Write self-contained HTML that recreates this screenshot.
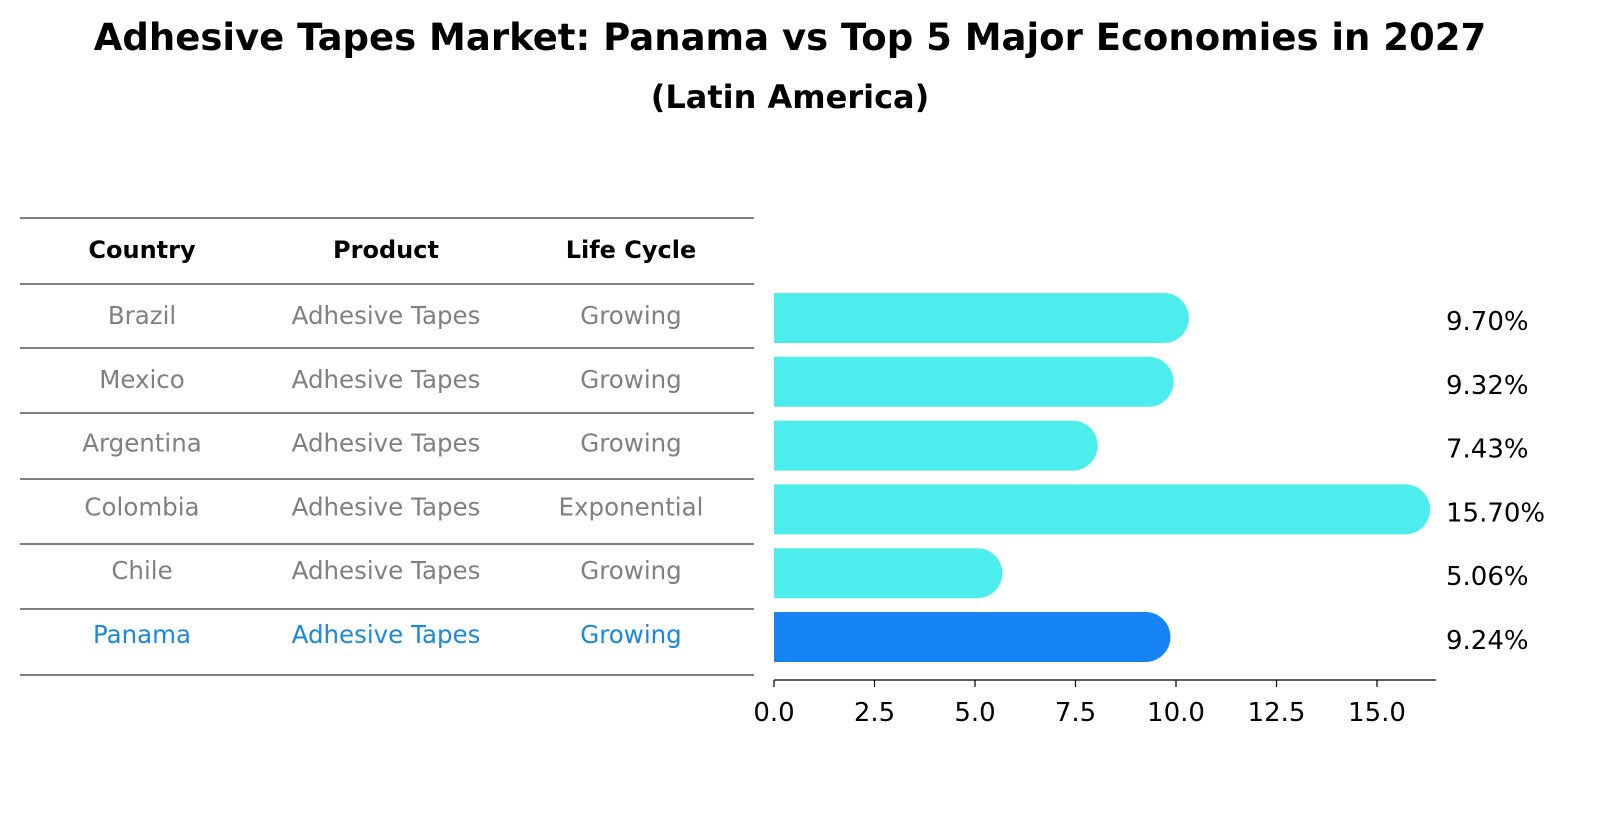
<!DOCTYPE html>
<html><head><meta charset="utf-8"><style>
body{margin:0;background:#fff;font-family:"Liberation Sans","DejaVu Sans",sans-serif;}
svg text{font-family:"DejaVu Sans","Liberation Sans",sans-serif;}
</style></head><body>
<svg id="c" width="1604" height="823" xmlns="http://www.w3.org/2000/svg">
<text x="790" y="50" text-anchor="middle" font-size="37" font-weight="bold">Adhesive Tapes Market: Panama vs Top 5 Major Economies in 2027</text>
<text x="790" y="108" text-anchor="middle" font-size="32" font-weight="bold">(Latin America)</text>
<g id="tbl"></g>
<g id="bars"></g>
<g id="axis"></g>
</svg>
<script>
const countries=["Brazil","Mexico","Argentina","Colombia","Chile","Panama"];
const products=["Adhesive Tapes","Adhesive Tapes","Adhesive Tapes","Adhesive Tapes","Adhesive Tapes","Adhesive Tapes"];
const lifecycles=["Growing","Growing","Growing","Exponential","Growing","Growing"];
const values=[9.70,9.32,7.43,15.70,5.06,9.24];
const ticks=[0,2.5,5,7.5,10,12.5,15];
const NS="http://www.w3.org/2000/svg";
function mk(t,a,p){const e=document.createElementNS(NS,t);for(const k in a)e.setAttribute(k,a[k]);p.appendChild(e);return e;}
const x0=774,ppu=40.2;
function xs(v){return x0+v*ppu;}
function ys(i){return 318+i*63.8;}
const tbl=document.getElementById('tbl');
const lineYs=[218,284,348,413,479,544,609,675];
lineYs.forEach(y=>{const l=mk('line',{x1:20,x2:754,y1:y,y2:y,stroke:'#000','stroke-width':1},tbl);

});
const cx=[142,386,631];
["Country","Product","Life Cycle"].forEach((h,j)=>{const t=mk('text',{x:cx[j],y:258,'text-anchor':'middle','font-size':24,'font-weight':'bold'},tbl);t.textContent=h;

});
countries.forEach((c,i)=>{const col=c==="Panama"?"#1a87e0":"#808080";
[c,products[i],lifecycles[i]].forEach((s,j)=>{const t=mk('text',{x:cx[j],y:ys(i)+6,'text-anchor':'middle','font-size':24.5,fill:col},tbl);t.textContent=s;

});});
const bars=document.getElementById('bars');
const h=50,r=25;
values.forEach((v,i)=>{const y=ys(i)-h/2;const xe=xs(v);const col=countries[i]==="Panama"?"#1784f5":"#4deded";
const p=mk('path',{d:`M${x0},${y} H${xe} A${r},${r} 0 0 1 ${xe},${y+h} H${x0} Z`,fill:col},bars);


const t=mk('text',{x:1446,y:ys(i)+12,'font-size':26},bars);t.textContent=v.toFixed(2)+'%';

});
const ax=document.getElementById('axis');
mk('line',{x1:x0,x2:1436,y1:680,y2:680,stroke:'#000','stroke-width':1.2},ax);
ticks.forEach(v=>{mk('line',{x1:xs(v),x2:xs(v),y1:680,y2:687,stroke:'#000','stroke-width':1.2},ax);
const t=mk('text',{x:xs(v),y:721,'text-anchor':'middle','font-size':26},ax);t.textContent=v.toFixed(1);

});
</script>
</body></html>
